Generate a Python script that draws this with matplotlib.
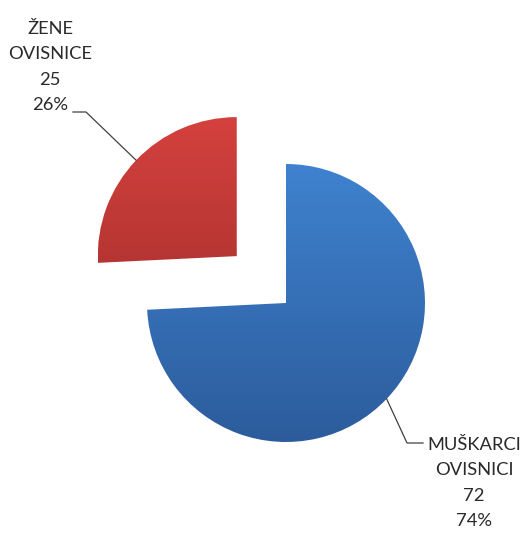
import matplotlib.pyplot as plt
import numpy as np
from matplotlib.colors import LinearSegmentedColormap

labels = ['MUŠKARCI\nOVISNICI', 'ŽENE\nOVISNICE']
values = [72, 25]
top_colors = ['#3f82cf', '#d4413e']
bottom_colors = ['#2c5c9c', '#9a2b29']

W, H = 524, 536
fig = plt.figure(figsize=(W / 100, H / 100), dpi=100)
ax = fig.add_axes([0, 0, 1, 1])

center = (286, H - 303)
radius = 139
wedges, _ = ax.pie(values, startangle=90, counterclock=False, radius=radius,
                   center=center, explode=[0, 68], frame=True)
ax.axis('off')

grad = np.linspace(0, 1, 256).reshape(-1, 1)
for w, c0, c1 in zip(wedges, bottom_colors, top_colors):
    w.set_facecolor('none')
    w.set_edgecolor('none')
    cx, cy = w.center
    cmap = LinearSegmentedColormap.from_list('g', [c0, c1])
    im = ax.imshow(grad, cmap=cmap, origin='lower', aspect='auto',
                   extent=[cx - radius, cx + radius, cy - radius, cy + radius],
                   zorder=1)
    im.set_clip_path(w)
ax.set_xlim(0, W)
ax.set_ylim(0, H)

total = sum(values)
# label positions (pixels from top-left) and leader elbow points
label_pos = [(474, 483), (50, 67)]
elbows = [[(407, 443), (423, 443)], [(86, 112), (73, 112)]]
for w, lab, v, (lx, ly), elb in zip(wedges, labels, values, label_pos, elbows):
    ang = np.deg2rad((w.theta1 + w.theta2) / 2)
    cx, cy = w.center
    px = cx + w.r * np.cos(ang)
    py = cy + w.r * np.sin(ang)
    xs = [px] + [e[0] for e in elb]
    ys = [py] + [H - e[1] for e in elb]
    ax.plot(xs, ys, color='#404040', lw=0.9, zorder=3)
    ax.text(lx, H - ly, '%s\n%d\n%d%%' % (lab, v, round(100 * v / total)),
            ha='center', va='center', fontsize=13.2, family='Lato',
            linespacing=1.72, color='#2a2a2a')

fig.savefig('out.png', dpi=100)
